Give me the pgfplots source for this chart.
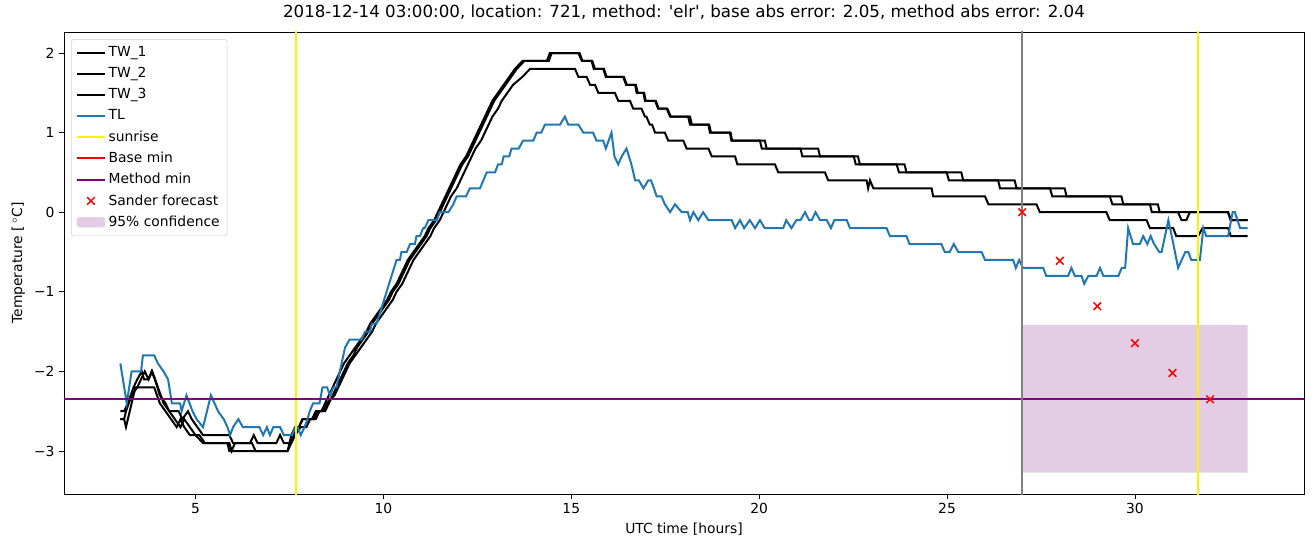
\documentclass[border=0pt]{standalone}
\usepackage{pgfplots}
\pgfplotsset{compat=1.18}
\usepackage{pgfplotstable}
\usepackage{fontspec}
\setmainfont{DejaVu Sans}
\definecolor{tabblue}{RGB}{31,119,180}
\definecolor{mplpurple}{RGB}{128,0,128}
\definecolor{mplgray}{RGB}{128,128,128}
\definecolor{bandfill}{RGB}{228,204,228}
\newcommand\mplfont{\fontsize{10.4}{12.5}\selectfont}
\newcommand\titlefont{\fontsize{12.5}{15}\selectfont}

\pgfplotstableread{
h v
3.0 -2.5
3.1 -2.5
3.2 -2.4
3.35 -2.2
3.45 -2.1
3.57 -2.0
3.63 -2.1
3.75 -2.1
3.83 -2.0
3.92 -2.1
4.05 -2.3
4.2 -2.4
4.3 -2.5
4.55 -2.5
4.65 -2.6
4.8 -2.5
4.9 -2.6
5.05 -2.7
5.2 -2.8
5.9 -2.8
6.0 -2.9
6.45 -2.9
6.55 -2.8
6.65 -2.9
7.15 -2.9
7.25 -2.8
7.35 -2.9
7.5 -2.9
7.6 -2.8
7.75 -2.7
7.85 -2.6
8.1 -2.6
8.2 -2.5
8.35 -2.5
8.45 -2.4
8.55 -2.3
8.65 -2.2
8.75 -2.1
8.85 -2.0
8.95 -1.9
9.1 -1.8
9.25 -1.7
9.4 -1.6
9.55 -1.5
9.65 -1.4
9.8 -1.3
9.95 -1.2
10.1 -1.1
10.2 -1.0
10.35 -0.9
10.45 -0.8
10.55 -0.7
10.65 -0.6
10.8 -0.5
10.95 -0.4
11.1 -0.3
11.2 -0.2
11.35 -0.1
11.45 0.0
11.55 0.1
11.65 0.2
11.75 0.3
11.85 0.4
11.95 0.5
12.05 0.6
12.2 0.7
12.3 0.8
12.4 0.9
12.5 1.0
12.6 1.1
12.7 1.2
12.8 1.3
12.9 1.4
13.05 1.5
13.2 1.6
13.35 1.7
13.5 1.8
13.7 1.9
14.35 1.9
14.43 2.0
15.19 2.0
15.28 1.9
15.54 1.9
15.6 1.8
15.85 1.8
15.92 1.7
16.38 1.7
16.46 1.6
16.7 1.6
16.74 1.5
16.92 1.5
16.96 1.4
17.23 1.4
17.31 1.3
17.54 1.3
17.63 1.2
18.11 1.2
18.16 1.1
18.65 1.1
18.69 1.0
19.22 1.0
19.26 0.9
20.02 0.9
20.07 0.8
21.1 0.8
21.15 0.7
22.52 0.7
22.57 0.6
23.66 0.6
23.72 0.5
24.99 0.5
25.05 0.4
26.36 0.4
26.41 0.3
27.74 0.3
27.8 0.2
29.33 0.2
29.4 0.1
30.4 0.1
30.45 0.0
32.48 0.0
32.55 -0.1
33.0 -0.1
}\twone

\pgfplotstableread{
h v
3.0 -2.6
3.1 -2.6
3.15 -2.5
3.3 -2.3
3.45 -2.2
3.55 -2.1
3.65 -2.0
3.75 -2.1
3.85 -2.0
4.0 -2.2
4.15 -2.4
4.3 -2.5
4.45 -2.6
4.6 -2.7
4.7 -2.6
4.85 -2.7
5.0 -2.8
5.2 -2.9
5.9 -2.9
5.96 -3.0
6.05 -2.9
6.5 -2.9
6.6 -3.0
7.45 -3.0
7.55 -2.9
7.65 -2.8
7.8 -2.7
7.95 -2.7
8.05 -2.6
8.2 -2.6
8.3 -2.5
8.45 -2.5
8.55 -2.4
8.65 -2.3
8.75 -2.2
8.85 -2.1
8.95 -2.0
9.05 -1.9
9.2 -1.8
9.3 -1.7
9.45 -1.6
9.6 -1.5
9.7 -1.4
9.85 -1.3
10.0 -1.2
10.15 -1.1
10.25 -1.0
10.4 -0.9
10.5 -0.8
10.6 -0.7
10.7 -0.6
10.85 -0.5
11.0 -0.4
11.15 -0.3
11.25 -0.2
11.4 -0.1
11.5 0.0
11.6 0.1
11.7 0.2
11.8 0.3
11.9 0.4
12.0 0.5
12.1 0.6
12.25 0.7
12.35 0.8
12.45 0.9
12.55 1.0
12.65 1.1
12.75 1.2
12.85 1.3
12.95 1.4
13.1 1.5
13.25 1.6
13.4 1.7
13.55 1.8
13.75 1.9
14.4 1.9
14.48 2.0
15.22 2.0
15.3 1.9
15.56 1.9
15.63 1.8
15.87 1.8
15.94 1.7
16.4 1.7
16.48 1.6
16.72 1.6
16.77 1.5
16.94 1.5
16.98 1.4
17.25 1.4
17.33 1.3
17.56 1.3
17.65 1.2
18.16 1.2
18.21 1.1
18.67 1.1
18.72 1.0
19.24 1.0
19.28 0.9
20.15 0.9
20.2 0.8
21.57 0.8
21.62 0.7
22.63 0.7
22.68 0.6
23.87 0.6
23.92 0.5
25.38 0.5
25.43 0.4
26.8 0.4
26.85 0.3
28.13 0.3
28.18 0.2
29.64 0.2
29.69 0.1
30.61 0.1
30.66 0.0
31.15 0.0
31.24 -0.1
31.37 -0.1
31.46 0.0
32.48 0.0
32.55 -0.1
33.0 -0.1
}\twtwo

\pgfplotstableread{
h v
3.0 -2.6
3.1 -2.6
3.15 -2.7
3.3 -2.4
3.4 -2.2
3.9 -2.2
4.05 -2.4
4.2 -2.5
4.35 -2.6
4.5 -2.7
4.6 -2.6
4.7 -2.7
4.85 -2.8
5.1 -2.8
5.25 -2.9
5.85 -2.9
5.9 -3.0
7.45 -3.0
7.55 -2.8
7.65 -2.7
7.75 -2.7
7.85 -2.6
8.15 -2.6
8.25 -2.5
8.4 -2.5
8.5 -2.4
8.7 -2.3
8.8 -2.2
8.9 -2.1
9.0 -2.0
9.1 -1.9
9.25 -1.8
9.4 -1.7
9.55 -1.6
9.7 -1.5
9.8 -1.4
9.95 -1.3
10.1 -1.2
10.25 -1.1
10.35 -1.0
10.5 -0.9
10.6 -0.8
10.7 -0.7
10.8 -0.6
10.95 -0.5
11.1 -0.4
11.25 -0.3
11.35 -0.2
11.5 -0.1
11.6 0.0
11.7 0.1
11.8 0.2
11.95 0.3
12.05 0.4
12.15 0.5
12.25 0.6
12.35 0.7
12.45 0.8
12.6 0.9
12.7 1.0
12.8 1.1
12.9 1.2
13.05 1.3
13.15 1.4
13.3 1.5
13.45 1.6
13.7 1.7
13.9 1.8
15.1 1.8
15.19 1.7
15.41 1.7
15.5 1.6
15.63 1.6
15.72 1.5
16.16 1.5
16.25 1.4
16.56 1.4
16.65 1.3
16.87 1.3
16.96 1.2
17.0 1.2
17.09 1.1
17.15 1.1
17.23 1.0
17.49 1.0
17.58 0.9
17.98 0.9
18.07 0.8
18.65 0.8
18.74 0.7
19.36 0.7
19.42 0.6
20.42 0.6
20.51 0.5
21.75 0.5
21.84 0.4
22.86 0.4
22.9 0.3
22.95 0.4
23.04 0.3
24.59 0.3
24.63 0.2
26.01 0.2
26.1 0.1
27.38 0.1
27.47 0.0
29.24 0.0
29.33 -0.1
30.31 -0.1
30.4 -0.2
31.02 -0.2
31.1 -0.3
31.68 -0.3
31.8 -0.2
32.48 -0.2
32.55 -0.3
33.0 -0.3
}\twthree

\pgfplotstableread{
h v
3.0 -1.9
3.17 -2.4
3.3 -2.0
3.55 -2.0
3.6 -1.8
3.9 -1.8
4.0 -1.9
4.15 -2.0
4.27 -2.1
4.37 -2.4
4.59 -2.4
4.63 -2.5
4.76 -2.3
4.84 -2.4
4.92 -2.5
5.03 -2.6
5.2 -2.7
5.41 -2.3
5.6 -2.5
5.75 -2.6
5.85 -2.7
5.92 -2.8
6.0 -2.7
6.14 -2.6
6.26 -2.7
6.7 -2.7
6.8 -2.8
6.9 -2.7
6.98 -2.8
7.07 -2.7
7.25 -2.7
7.35 -2.8
7.57 -2.8
7.65 -2.7
7.72 -2.7
7.8 -2.8
7.9 -2.7
7.98 -2.6
8.04 -2.5
8.13 -2.4
8.3 -2.4
8.38 -2.2
8.5 -2.2
8.58 -2.3
8.67 -2.2
8.75 -2.2
8.84 -2.0
8.98 -1.7
9.1 -1.6
9.42 -1.6
9.51 -1.5
9.64 -1.5
9.69 -1.4
9.82 -1.4
10.35 -0.6
10.44 -0.6
10.48 -0.5
10.62 -0.5
10.71 -0.4
10.84 -0.4
10.88 -0.3
10.97 -0.3
11.06 -0.2
11.1 -0.2
11.2 -0.1
11.42 -0.1
11.5 0.0
11.73 0.0
11.86 0.1
11.95 0.2
12.2 0.2
12.3 0.3
12.57 0.3
12.66 0.4
12.75 0.5
12.97 0.5
13.05 0.6
13.15 0.6
13.2 0.7
13.35 0.7
13.41 0.8
13.6 0.8
13.72 0.9
13.99 0.9
14.08 1.0
14.2 1.0
14.3 1.1
14.7 1.1
14.83 1.2
14.92 1.1
15.19 1.1
15.32 1.0
15.58 1.0
15.67 0.9
15.85 0.9
15.92 0.8
16.07 1.0
16.15 0.7
16.25 0.6
16.34 0.7
16.47 0.8
16.6 0.6
16.7 0.4
16.8 0.4
16.92 0.3
17.05 0.4
17.12 0.4
17.2 0.3
17.27 0.2
17.4 0.2
17.49 0.1
17.63 0.0
17.76 0.1
17.94 0.0
18.1 0.0
18.16 -0.1
18.25 0.0
18.38 -0.1
18.51 0.0
18.65 -0.1
19.27 -0.1
19.36 -0.2
19.49 -0.1
19.6 -0.2
19.75 -0.1
19.89 -0.2
20.02 -0.1
20.15 -0.2
20.64 -0.2
20.72 -0.1
20.86 -0.2
20.99 -0.1
21.1 -0.1
21.22 0.0
21.33 -0.1
21.4 -0.1
21.5 0.0
21.62 -0.1
21.8 -0.1
21.91 -0.2
22.0 -0.1
22.33 -0.1
22.42 -0.2
23.39 -0.2
23.48 -0.3
23.92 -0.3
24.0 -0.4
24.85 -0.4
24.94 -0.5
25.07 -0.5
25.18 -0.4
25.3 -0.5
25.92 -0.5
26.01 -0.6
26.76 -0.6
26.83 -0.7
26.92 -0.6
27.02 -0.7
27.56 -0.7
27.64 -0.8
28.22 -0.8
28.31 -0.7
28.4 -0.8
28.58 -0.8
28.65 -0.9
28.76 -0.8
28.98 -0.8
29.07 -0.7
29.16 -0.8
29.56 -0.8
29.65 -0.7
29.74 -0.7
29.82 -0.2
29.95 -0.4
30.13 -0.4
30.22 -0.3
30.33 -0.4
30.42 -0.3
30.51 -0.4
30.65 -0.5
30.71 -0.5
30.89 -0.1
30.98 -0.3
31.15 -0.7
31.34 -0.5
31.42 -0.5
31.5 -0.6
31.73 -0.6
31.82 -0.2
31.9 -0.3
32.48 -0.3
32.6 0.0
32.66 0.0
32.8 -0.2
33.0 -0.2
}\tl

\pgfplotstableread{
h v
27 0.0
28 -0.61
29 -1.18
30 -1.645
31 -2.02
32 -2.35
}\sander

\begin{document}
\begin{tikzpicture}
\path[use as bounding box] (-48pt,-39.75pt) rectangle (936.75pt,370.5pt);
\begin{axis}[
  at={(0,0)}, anchor=south west,
  scale only axis, width=930pt, height=346.5pt,
  xmin=1.5, xmax=34.5, ymin=-3.54, ymax=2.264,
  xtick={5,10,15,20,25,30}, xticklabels={5,10,15,20,25,30},
  ytick={-3,-2,-1,0,1,2}, yticklabels={−3,−2,−1,0,1,2},
  tick align=outside, xtick pos=bottom, ytick pos=left,
  major tick length=3.6pt,
  tick style={black, line width=0.6pt},
  axis line style={line width=0.6pt},
  ticklabel style={font=\mplfont},
  label style={font=\mplfont},
  xlabel={UTC time [hours]},
  ylabel={Temperature [\,$^\circ$C]},
  title={2018-12-14 03:00:00, location: 721, method: \textquotesingle elr\textquotesingle, base abs error: 2.05, method abs error: 2.04},
  title style={font=\titlefont},
  legend cell align=left,
  legend style={at={(0.00565,0.9848)}, anchor=north west, font=\mplfont,
    draw=black!18, rounded corners=2pt, row sep=2.6pt, inner sep=3.5pt},
  legend image code/.code={\draw[mark repeat=2,mark phase=2,#1] plot coordinates {(0pt,0pt) (10.5pt,0pt) (21pt,0pt)};},
]
\addlegendimage{black, line width=1.5pt}
\addlegendentry{TW\_1}
\addlegendimage{black, line width=1.5pt}
\addlegendentry{TW\_2}
\addlegendimage{black, line width=1.5pt}
\addlegendentry{TW\_3}
\addlegendimage{tabblue, line width=1.5pt}
\addlegendentry{TL}
\addlegendimage{yellow, line width=1.5pt}
\addlegendentry{sunrise}
\addlegendimage{red, line width=1.5pt}
\addlegendentry{Base min}
\addlegendimage{mplpurple, line width=1.5pt}
\addlegendentry{Method min}
\addlegendimage{only marks, mark=x, red, mark size=4pt, line width=1.1pt}
\addlegendentry{Sander forecast}
\addlegendimage{legend image code/.code={\fill[bandfill] (0pt,-3.6pt) rectangle (21pt,3.6pt);}}
\addlegendentry{95\% confidence}

\addplot[fill=bandfill, draw=none, forget plot] coordinates {(27,-3.27) (33,-3.27) (33,-1.415) (27,-1.415)} \closedcycle;
\addplot[black, line width=1.5pt, forget plot] table[x=h,y=v] {\twone};
\addplot[black, line width=1.5pt, forget plot] table[x=h,y=v] {\twtwo};
\addplot[black, line width=1.5pt, forget plot] table[x=h,y=v] {\twthree};
\addplot[tabblue, line width=1.5pt, forget plot] table[x=h,y=v] {\tl};
\addplot[yellow, line width=1.5pt, forget plot] coordinates {(7.67,-4) (7.67,3)};
\addplot[yellow, line width=1.5pt, forget plot] coordinates {(31.67,-4) (31.67,3)};
\addplot[red, line width=1.5pt, forget plot] coordinates {(0,-2.345) (36,-2.345)};
\addplot[mplpurple, line width=1.5pt, forget plot] coordinates {(0,-2.345) (36,-2.345)};
\addplot[mplgray, line width=1.5pt, forget plot] coordinates {(27,-4) (27,3)};
\addplot[only marks, mark=x, red, mark size=4pt, line width=1.1pt, forget plot] table[x=h,y=v] {\sander};
\end{axis}
\end{tikzpicture}
\end{document}
